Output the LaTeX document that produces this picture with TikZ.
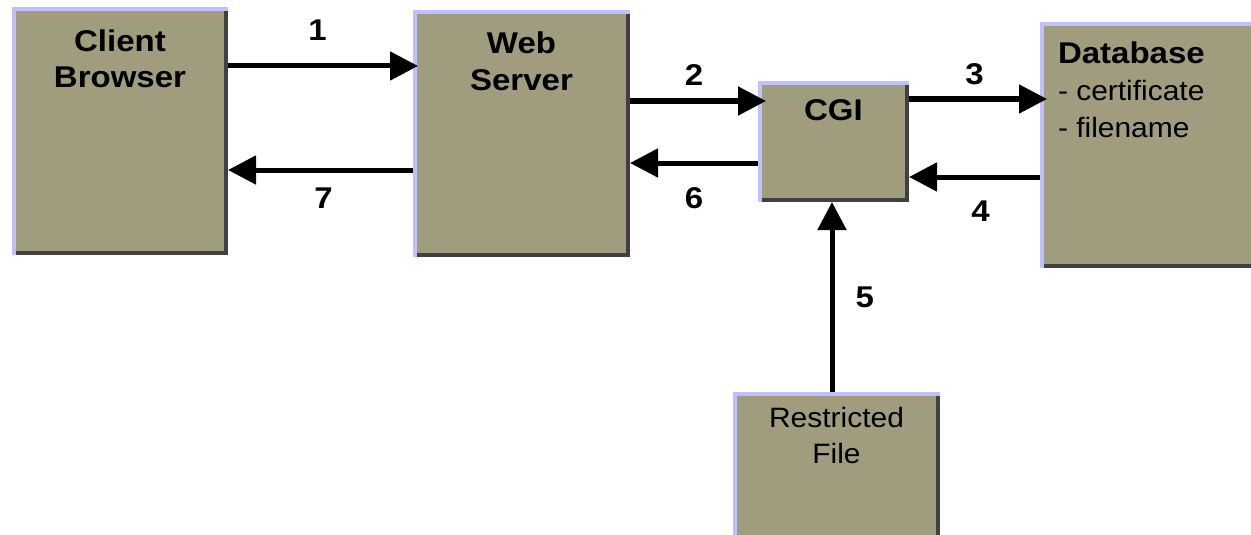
\documentclass[tikz,border=0pt]{standalone}
\usepackage{fontspec}
\setmainfont{Liberation Sans}
\newfontfamily\titlefont[FakeStretch=1.1]{Liberation Sans}
\newfontfamily\plainfont[FakeStretch=1.07]{Liberation Sans}
\usetikzlibrary{arrows.meta,calc}
\definecolor{boxfill}{RGB}{160,156,126}
\definecolor{lav}{RGB}{192,192,255}
\definecolor{darkedge}{RGB}{64,64,64}
\tikzset{
  box/.style={fill=boxfill, inner sep=0pt, outer sep=0pt, anchor=north west},
  arr/.style={line width=5pt, -{Triangle[length=28pt,width=28pt]}},
  lbl/.style={inner sep=0pt, font=\titlefont\bfseries\fontsize{30}{36}\selectfont}
}
\begin{document}
\begin{tikzpicture}[x=1pt,y=-1pt]
\useasboundingbox (0,0) rectangle (1251,535);
% boxes
\node[box] (cb) at (12,7) {\parbox[c][248pt][t]{216pt}{\centering\titlefont\bfseries\fontsize{30}{36}\selectfont\rule{0pt}{44pt}Client\\Browser}};
\node[box] (ws) at (413,10) {\parbox[c][247pt][t]{217pt}{\centering\titlefont\bfseries\fontsize{30}{37}\selectfont\rule{0pt}{43pt}Web\\Server}};
\node[box] (cgi) at (758,81) {\parbox[c][121pt][t]{151pt}{\centering\titlefont\bfseries\fontsize{30}{36}\selectfont\rule{0pt}{39pt}CGI}};
\node[box] (db) at (1040,22) {\parbox[c][246pt][t]{216pt}{\plainfont\fontsize{28}{37}\selectfont\raggedright\leftskip=18pt\rule{0pt}{41pt}{\titlefont\bfseries\fontsize{30}{37}\selectfont Database}\\- certificate\\- filename}};
\node[box] (rf) at (733,392) {\parbox[c][150pt][t]{207pt}{\centering\plainfont\fontsize{28}{36}\selectfont\rule{0pt}{35pt}Restricted\\File}};
% bevel edges
\foreach \n in {cb,ws,cgi,db,rf}{
  \fill[lav] (\n.north west) rectangle ($(\n.south west)+(4,0)$);
  \fill[lav] (\n.north west) rectangle ($(\n.north east)+(0,4)$);
  \fill[darkedge] ($(\n.north east)+(-4,4)$) rectangle (\n.south east);
  \fill[darkedge] ($(\n.south west)+(4,-4)$) rectangle (\n.south east);
}
% levels
\coordinate (y1) at (0,66);
\coordinate (y7) at (0,170);
\coordinate (y2) at (0,101);
\coordinate (y6) at (0,163);
\coordinate (y3) at (0,99);
\coordinate (y4) at (0,177);
% arrows
\draw[arr, shorten >=-5pt] (cb.east |- y1) -- node[lbl, above=23pt, xshift=-3pt] {1} (ws.west |- y1);
\draw[arr] (ws.west |- y7) -- node[lbl, below=15pt, xshift=3pt] {7} (cb.east |- y7);
\draw[arr, shorten >=-8pt] (ws.east |- y2) -- node[lbl, above=13pt] {2} (cgi.west |- y2);
\draw[arr] (cgi.west |- y6) -- node[lbl, below=22pt] {6} (ws.east |- y6);
\draw[arr, shorten >=-7pt] (cgi.east |- y3) -- node[lbl, above=12pt] {3} (db.west |- y3);
\draw[arr] (db.west |- y4) -- node[lbl, below=21pt, xshift=6pt] {4} (cgi.east |- y4);
\draw[arr] (rf.north -| 832,0) -- node[lbl, right=21pt] {5} (cgi.south -| 832,0);
\end{tikzpicture}
\end{document}
